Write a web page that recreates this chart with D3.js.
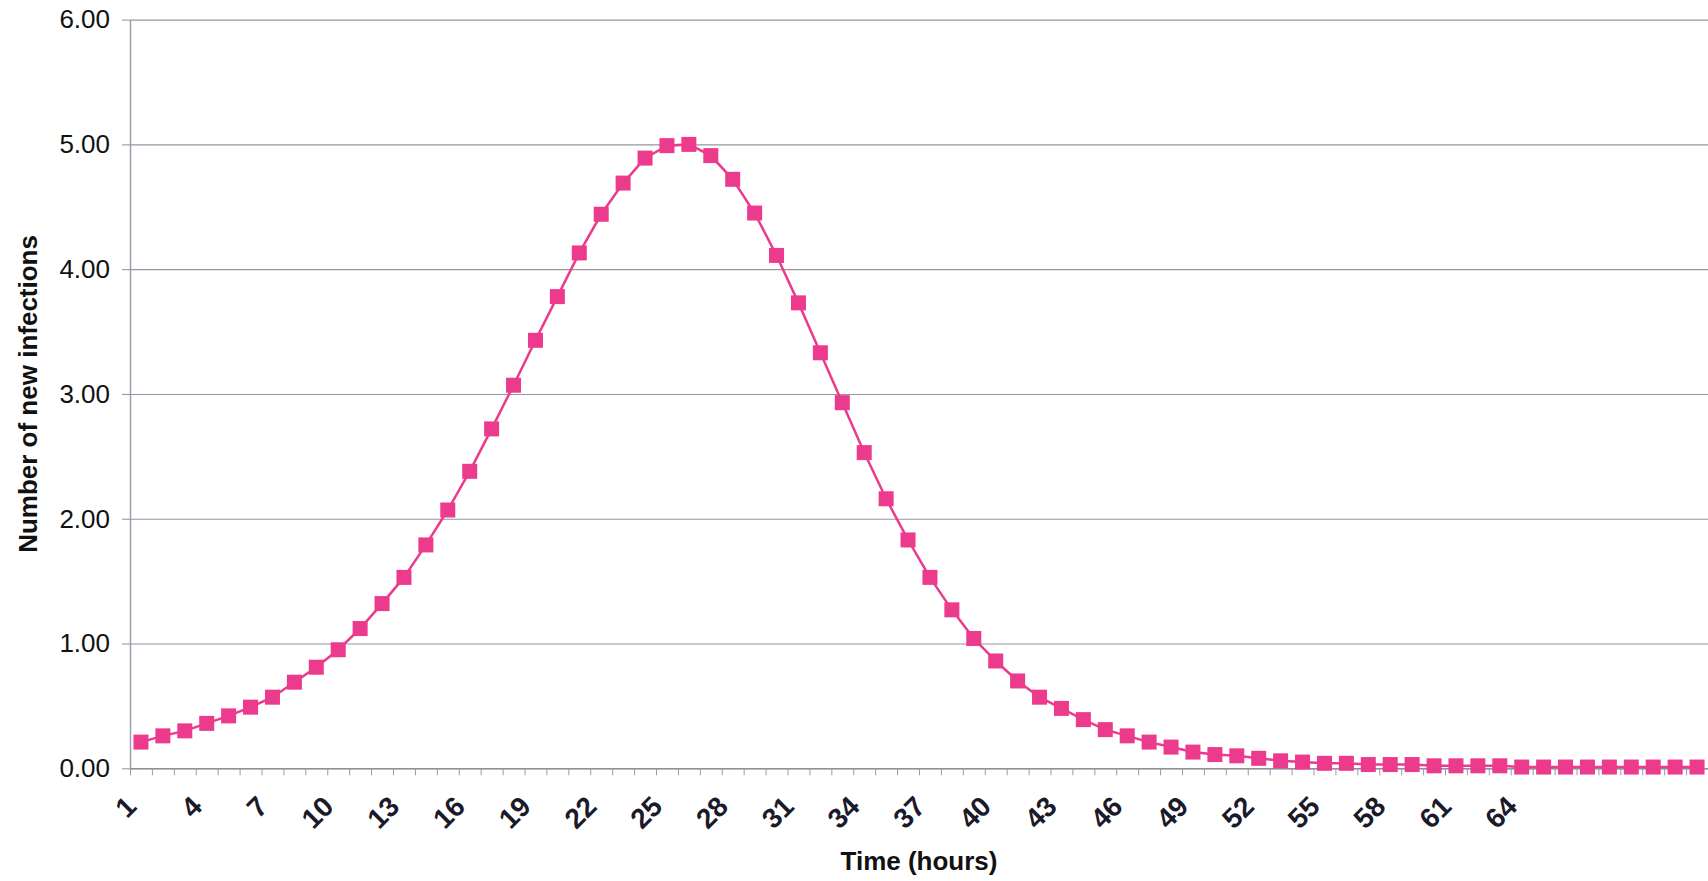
<!DOCTYPE html>
<html>
<head>
<meta charset="utf-8">
<script src="https://cdnjs.cloudflare.com/ajax/libs/d3/7.8.5/d3.min.js"></script>
<style>
	body { margin: 0; background: #fff; }
	svg { display: block; }
</style>
</head>
<body>
<div id="chart"></div>
<script>
// data
var hours = d3.range( 1, 73 );
var newInfections = [
	0.21, 0.26, 0.30, 0.36, 0.42, 0.49, 0.57, 0.69, 0.81, 0.95,
	1.12, 1.32, 1.53, 1.79, 2.07, 2.38, 2.72, 3.07, 3.43, 3.78,
	4.13, 4.44, 4.69, 4.89, 4.99, 5.00, 4.91, 4.72, 4.45, 4.11,
	3.73, 3.33, 2.93, 2.53, 2.16, 1.83, 1.53, 1.27, 1.04, 0.86,
	0.70, 0.57, 0.48, 0.39, 0.31, 0.26, 0.21, 0.17, 0.13, 0.11,
	0.10, 0.08, 0.06, 0.05, 0.04, 0.04, 0.03, 0.03, 0.03, 0.02,
	0.02, 0.02, 0.02, 0.01, 0.01, 0.01, 0.01, 0.01, 0.01, 0.01,
	0.01, 0.01
];
var xTickLabels = d3.range( 1, 65, 3 );
var yTicks = [ 0, 1, 2, 3, 4, 5, 6 ];

var W = 1708, H = 881;
var plotLeft = 130, plotRight = 1708, plotTop = 19.6, plotBottom = 768.3;
var pink = '#ec3a8c';

var svg = d3.select( '#chart' ).append( 'svg' )
	.attr( 'width', W )
	.attr( 'height', H );

var x = d3.scaleBand()
	.domain( hours )
	.range( [ plotLeft, plotRight ] )
	.padding( 0 );

var xEdge = d3.scaleLinear()
	.domain( [ 0, hours.length ] )
	.range( [ plotLeft, plotRight ] );

var y = d3.scaleLinear()
	.domain( [ 0, 6 ] )
	.range( [ plotBottom, plotTop ] );

// gridlines
svg.append( 'g' )
	.attr( 'transform', 'translate(' + plotLeft + ',0)' )
	.call( d3.axisLeft( y ).tickValues( yTicks ).tickSize( -( plotRight - plotLeft ) ).tickFormat( '' ) )
	.call( g => g.select( '.domain' ).remove() )
	.call( g => g.selectAll( '.tick line' ).attr( 'stroke', '#96969e' ).attr( 'stroke-width', 1.1 ) );

// y axis
var yAxis = svg.append( 'g' )
	.attr( 'transform', 'translate(' + plotLeft + ',0)' )
	.call( d3.axisLeft( y ).tickValues( yTicks ).tickSize( 8 ).tickSizeOuter( 0 ).tickPadding( 12 ).tickFormat( d3.format( '.2f' ) ) );
yAxis.select( '.domain' ).attr( 'stroke', '#9aa0ac' ).attr( 'stroke-width', 1.5 );
yAxis.selectAll( '.tick line' ).attr( 'stroke', '#8f8f96' );
yAxis.selectAll( 'text' )
	.attr( 'font-family', 'Liberation Sans, Arial, sans-serif' )
	.attr( 'font-size', '26px' )
	.attr( 'fill', '#111' );

// x axis: tick marks between categories
var xAxis = svg.append( 'g' )
	.attr( 'transform', 'translate(0,' + plotBottom + ')' )
	.call( d3.axisBottom( xEdge ).tickValues( d3.range( 0, hours.length + 1 ) ).tickSize( 7 ).tickSizeOuter( 0 ).tickFormat( '' ) );
xAxis.select( '.domain' ).attr( 'stroke', '#8f8f9c' ).attr( 'stroke-width', 1.5 );
xAxis.selectAll( '.tick line' ).attr( 'stroke', '#9a9aa4' );

// x labels, rotated
svg.append( 'g' )
	.selectAll( 'text' )
	.data( xTickLabels )
	.enter()
	.append( 'text' )
	.attr( 'transform', function( d ) {
		return 'translate(' + ( x( d ) + x.bandwidth() / 2 - 3 ) + ',' + ( plotBottom + 40 ) + ') rotate(-45)';
	} )
	.attr( 'text-anchor', 'end' )
	.attr( 'font-family', 'Liberation Sans, Arial, sans-serif' )
	.attr( 'font-weight', 'bold' )
	.attr( 'font-size', '28px' )
	.attr( 'fill', '#1a1a2a' )
	.text( d => d );

// line
var line = d3.line()
	.x( ( d, i ) => x( hours[ i ] ) + x.bandwidth() / 2 )
	.y( d => y( d ) );

svg.append( 'path' )
	.datum( newInfections )
	.attr( 'd', line )
	.attr( 'fill', 'none' )
	.attr( 'stroke', pink )
	.attr( 'stroke-width', 2.5 );

// markers
var ms = 15;
svg.append( 'g' )
	.selectAll( 'rect' )
	.data( newInfections )
	.enter()
	.append( 'rect' )
	.attr( 'x', ( d, i ) => x( hours[ i ] ) + x.bandwidth() / 2 - ms / 2 )
	.attr( 'y', d => y( d ) - ms / 2 )
	.attr( 'width', ms )
	.attr( 'height', ms )
	.attr( 'fill', pink );

// axis titles
svg.append( 'text' )
	.attr( 'x', ( plotLeft + plotRight ) / 2 )
	.attr( 'y', 870 )
	.attr( 'text-anchor', 'middle' )
	.attr( 'font-family', 'Liberation Sans, Arial, sans-serif' )
	.attr( 'font-weight', 'bold' )
	.attr( 'font-size', '26px' )
	.attr( 'fill', '#111' )
	.text( 'Time (hours)' );

svg.append( 'text' )
	.attr( 'transform', 'translate(37,' + ( ( plotTop + plotBottom ) / 2 ) + ') rotate(-90)' )
	.attr( 'text-anchor', 'middle' )
	.attr( 'font-family', 'Liberation Sans, Arial, sans-serif' )
	.attr( 'font-weight', 'bold' )
	.attr( 'font-size', '26px' )
	.attr( 'fill', '#111' )
	.text( 'Number of new infections' );
</script>
</body>
</html>
